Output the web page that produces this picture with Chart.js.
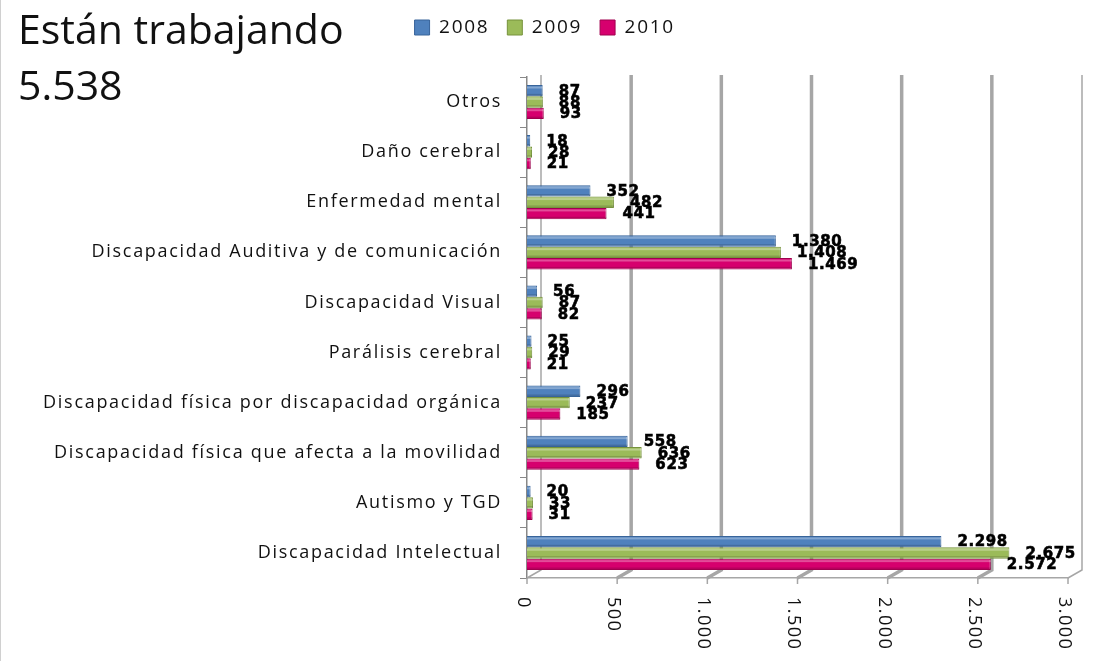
<!DOCTYPE html>
<html>
<head>
<meta charset="utf-8">
<script src="https://cdn.jsdelivr.net/npm/chart.js@4.4.1/dist/chart.umd.min.js"></script>
<style>
  html, body { margin: 0; padding: 0; background: #fff; }
  #wrap { position: relative; width: 1110px; height: 661px; border-left: 1px solid #d0d0d0; box-sizing: border-box; }
  #title { position: absolute; left: 17px; top: 0; font-family: "Open Sans", sans-serif; font-size: 41px; line-height: 56px; color: #111; }
  canvas { position: absolute; left: 0; top: 0; }
</style>
</head>
<body>
<div id="wrap">
  <canvas id="chart" width="1109" height="661"></canvas>
  <div id="title">Están trabajando<br>5.538</div>
</div>
<script>
const categories = [
    'Otros',
    'Daño cerebral',
    'Enfermedad mental',
    'Discapacidad Auditiva y de comunicación',
    'Discapacidad Visual',
    'Parálisis cerebral',
    'Discapacidad física por discapacidad orgánica',
    'Discapacidad física que afecta a la movilidad',
    'Autismo y TGD',
    'Discapacidad Intelectual'
];
const years = ['2008', '2009', '2010'];
const values2008 = [87, 18, 352, 1380, 56, 25, 296, 558, 20, 2298];
const values2009 = [88, 28, 482, 1408, 87, 29, 237, 636, 33, 2675];
const values2010 = [93, 21, 441, 1469, 82, 21, 185, 623, 31, 2572];
const xTicks = [0, 500, 1000, 1500, 2000, 2500, 3000];

const colors = ['#4f81bd', '#9bbb59', '#d6006e'];
const borders = ['#38649a', '#76923c', '#a0004f'];

// 1380 -> "1.380"
function fmt(n) {
    return String(n).replace(/\B(?=(\d{3})+(?!\d))/g, '.');
}

// the original text is drawn wide, so spread letters a little
const spacingPlugin = {
    id: 'spacing',
    afterInit(chart) {
        // extra room between legend and plot
        const legend = chart.legend;
        const fit = legend.fit;
        legend.fit = function () { fit.call(this); this.height += 30; };
    },
    beforeDraw(chart) { chart.ctx.letterSpacing = '1.7px'; }
};

// back-wall gridlines with a small depth offset, like the 3D original
const wallPlugin = {
    id: 'wall',
    beforeDatasetsDraw(chart) {
        const { ctx, chartArea, scales } = chart;
        const depth = 14;
        ctx.save();
        ctx.strokeStyle = '#a6a6a6';
        xTicks.forEach((v, i) => {
            const x = scales.x.getPixelForValue(v);
            ctx.lineWidth = (i === 0 || i === xTicks.length - 1) ? 1.5 : 3.5;
            ctx.beginPath();
            ctx.moveTo(x + depth, chartArea.top - 2);
            ctx.lineTo(x + depth, chartArea.bottom - 8);
            ctx.lineTo(x, chartArea.bottom);
            ctx.stroke();
            ctx.lineWidth = 1.5;
            ctx.beginPath();
            ctx.moveTo(x, chartArea.bottom);
            ctx.lineTo(x, chartArea.bottom + 6);
            ctx.stroke();
        });
        ctx.restore();
    },
    afterDraw(chart) {
        // rotated x tick labels, reading top to bottom
        const { ctx, chartArea, scales } = chart;
        ctx.save();
        ctx.letterSpacing = '1.5px';
        ctx.font = '18px "Open Sans"';
        ctx.fillStyle = '#111';
        ctx.textAlign = 'left';
        ctx.textBaseline = 'middle';
        xTicks.forEach(v => {
            const x = scales.x.getPixelForValue(v);
            ctx.save();
            ctx.translate(x - 4, chartArea.bottom + 19);
            ctx.rotate(Math.PI / 2);
            ctx.fillText(fmt(v), 0, 0);
            ctx.restore();
        });
        ctx.restore();
    }
};

const labelPlugin = {
    id: 'barLabels',
    afterDatasetsDraw(chart) {
        const { ctx } = chart;
        ctx.save();
        // light stripe on each bar for a bit of the cylinder look
        chart.data.datasets.forEach((ds, di) => {
            chart.getDatasetMeta(di).data.forEach(bar => {
                const h = bar.height;
                ctx.fillStyle = 'rgba(255,255,255,0.3)';
                ctx.fillRect(bar.base, bar.y - h / 2 + 1.5, bar.x - bar.base, 2);
                ctx.fillStyle = 'rgba(0,0,0,0.15)';
                ctx.fillRect(bar.base, bar.y + h / 2 - 2.5, bar.x - bar.base, 1.5);
            });
        });
        ctx.letterSpacing = '0.6px';
        ctx.font = 'bold 15px "DejaVu Sans"';
        ctx.fillStyle = '#000';
        ctx.strokeStyle = '#000';
        ctx.lineWidth = 0.6;
        ctx.textAlign = 'left';
        ctx.textBaseline = 'middle';
        chart.data.datasets.forEach((ds, di) => {
            chart.getDatasetMeta(di).data.forEach((bar, i) => {
                const t = fmt(ds.data[i]);
                ctx.fillText(t, bar.x + 16, bar.y + 1);
                ctx.strokeText(t, bar.x + 16, bar.y + 1);
            });
        });
        ctx.restore();
    }
};

new Chart(document.getElementById('chart'), {
    type: 'bar',
    data: {
        labels: categories,
        datasets: [
            { label: years[0], data: values2008, backgroundColor: colors[0], borderColor: borders[0], borderWidth: 1 },
            { label: years[1], data: values2009, backgroundColor: colors[1], borderColor: borders[1], borderWidth: 1 },
            { label: years[2], data: values2010, backgroundColor: colors[2], borderColor: borders[2], borderWidth: 1 }
        ]
    },
    options: {
        indexAxis: 'y',
        responsive: false,
        animation: false,
        layout: { padding: { top: 0, right: 42, bottom: 75, left: 0 } },
        datasets: { bar: { categoryPercentage: 0.68, barPercentage: 1 } },
        scales: {
            x: {
                min: 0, max: 3000,
                ticks: { display: false, stepSize: 500 },
                grid: { display: false },
                border: { display: true, color: '#a6a6a6', width: 1.5 }
            },
            y: {
                afterFit(scale) { scale.width = 526; },
                ticks: { color: '#111', font: { family: 'Open Sans', size: 18 }, padding: 18 },
                grid: { offset: true, drawOnChartArea: false, drawTicks: true, tickLength: 7, color: '#888' },
                border: { display: true, color: '#888', width: 1.5 }
            }
        },
        plugins: {
            legend: {
                position: 'top',
                labels: { color: '#111', font: { family: 'Open Sans', size: 19 }, boxWidth: 15, boxHeight: 15, padding: 18 }
            },
            tooltip: { enabled: false }
        }
    },
    plugins: [spacingPlugin, wallPlugin, labelPlugin]
});
</script>
</body>
</html>
